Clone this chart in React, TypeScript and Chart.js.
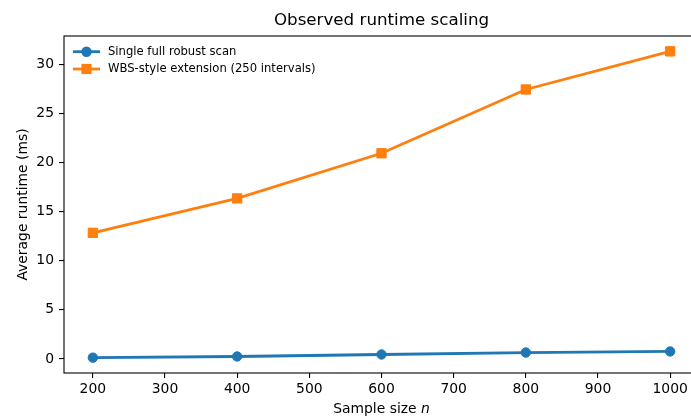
import React, { useEffect, useRef } from "react";
import { Chart, registerables } from "chart.js";

Chart.register(...registerables);

// ---- data ----
const sampleSizes = [200, 400, 600, 800, 1000];
const singleScan = [0.14, 0.26, 0.46, 0.66, 0.77];
const wbsExtension = [12.84, 16.34, 20.93, 27.42, 31.3];
const seriesLabels = ["Single full robust scan", "WBS-style extension (250 intervals)"];
const xTickValues = [200, 300, 400, 500, 600, 700, 800, 900, 1000];
const yTickValues = [0, 5, 10, 15, 20, 25, 30];
const titleText = "Observed runtime scaling";
const xLabelText = "Sample size ";
const xLabelVar = "n";
const yLabelText = "Average runtime (ms)";

const BLUE = "#1f77b4";
const ORANGE = "#ff7f0e";
const FONT = '"DejaVu Sans", sans-serif';

const decor = {
  id: "decor",
  afterDraw(chart: any) {
    const { ctx, chartArea: a } = chart;
    ctx.save();
    // spines
    ctx.strokeStyle = "#000";
    ctx.lineWidth = 1.1;
    ctx.strokeRect(a.left, a.top, a.right - a.left, a.bottom - a.top);

    const cx = (a.left + a.right) / 2;
    ctx.fillStyle = "#000";
    ctx.textBaseline = "middle";

    // title
    ctx.font = `16.7px ${FONT}`;
    ctx.textAlign = "center";
    ctx.fillText(titleText, cx, 21);

    // x label with italic n
    ctx.textAlign = "left";
    ctx.font = `13.9px ${FONT}`;
    const w1 = ctx.measureText(xLabelText).width;
    ctx.font = `italic 13.9px ${FONT}`;
    const w2 = ctx.measureText(xLabelVar).width;
    const x0 = cx - (w1 + w2) / 2;
    ctx.font = `13.9px ${FONT}`;
    ctx.fillText(xLabelText, x0, 409);
    ctx.font = `italic 13.9px ${FONT}`;
    ctx.fillText(xLabelVar, x0 + w1, 409);

    // y label
    ctx.save();
    ctx.translate(23, (a.top + a.bottom) / 2);
    ctx.rotate(-Math.PI / 2);
    ctx.textAlign = "center";
    ctx.font = `13.9px ${FONT}`;
    ctx.fillText(yLabelText, 0, 0);
    ctx.restore();

    // legend
    const colors = [BLUE, ORANGE];
    const rows = [51.7, 69];
    seriesLabels.forEach((lab, i) => {
      const y = rows[i];
      ctx.strokeStyle = colors[i];
      ctx.lineWidth = 2.8;
      ctx.beginPath();
      ctx.moveTo(73, y);
      ctx.lineTo(100, y);
      ctx.stroke();
      ctx.fillStyle = colors[i];
      if (i === 0) {
        ctx.beginPath();
        ctx.arc(86.5, y, 5.2, 0, Math.PI * 2);
        ctx.fill();
      } else {
        ctx.fillRect(86.5 - 5.1, y - 5.1, 10.2, 10.2);
      }
      ctx.fillStyle = "#000";
      ctx.font = `11.6px ${FONT}`;
      ctx.textAlign = "left";
      ctx.fillText(lab, 108, y);
    });
    ctx.restore();
  },
};

export default function App() {
  const ref = useRef<HTMLCanvasElement | null>(null);

  useEffect(() => {
    document.body.style.margin = "0";
    document.body.style.overflow = "hidden";
    document.documentElement.style.overflow = "hidden";
    const canvas = ref.current;
    if (!canvas) return;
    const chart = new Chart(canvas, {
      type: "line",
      data: {
        datasets: [
          {
            label: seriesLabels[0],
            data: sampleSizes.map((x, i) => ({ x, y: singleScan[i] })),
            borderColor: BLUE,
            backgroundColor: BLUE,
            borderWidth: 2.8,
            pointStyle: "circle",
            pointRadius: 4.7,
            pointBorderWidth: 1,
            pointBorderColor: BLUE,
            pointBackgroundColor: BLUE,
            tension: 0,
          },
          {
            label: seriesLabels[1],
            data: sampleSizes.map((x, i) => ({ x, y: wbsExtension[i] })),
            borderColor: ORANGE,
            backgroundColor: ORANGE,
            borderWidth: 2.8,
            pointStyle: "rect",
            pointRadius: 6.6,
            pointBorderWidth: 1,
            pointBorderColor: ORANGE,
            pointBackgroundColor: ORANGE,
            tension: 0,
          },
        ],
      },
      options: {
        responsive: false,
        animation: false,
        devicePixelRatio: 1,
        layout: { padding: { top: 36, right: 21, left: 0, bottom: 0 } },
        plugins: {
          legend: { display: false },
          title: { display: false },
          tooltip: { enabled: false },
        },
        scales: {
          x: {
            type: "linear",
            min: 160,
            max: 1040,
            afterFit: (s: any) => {
              s.height = 44;
            },
            afterBuildTicks: (s: any) => {
              s.ticks = xTickValues.map((v) => ({ value: v }));
            },
            ticks: {
              autoSkip: false,
              maxRotation: 0,
              padding: 3,
              color: "#000",
              font: { family: FONT, size: 13.9 },
              callback: (v: any) => String(v),
            },
            grid: {
              display: true,
              drawOnChartArea: false,
              drawTicks: true,
              tickLength: 5,
              color: "#000",
              lineWidth: 1.1,
            },
            border: { display: false },
          },
          y: {
            type: "linear",
            min: -1.42,
            max: 32.86,
            afterFit: (s: any) => {
              s.width = 64;
            },
            afterBuildTicks: (s: any) => {
              s.ticks = yTickValues.map((v) => ({ value: v }));
            },
            ticks: {
              autoSkip: false,
              padding: 5,
              color: "#000",
              font: { family: FONT, size: 13.9 },
              callback: (v: any) => String(v),
            },
            grid: {
              display: true,
              drawOnChartArea: false,
              drawTicks: true,
              tickLength: 5,
              color: "#000",
              lineWidth: 1.1,
            },
            border: { display: false },
          },
        },
      },
      plugins: [decor],
    });
    return () => chart.destroy();
  }, []);

  return (
    <div style={{ width: 720, height: 417, background: "#fff" }}>
      <canvas ref={ref} width={720} height={417} style={{ display: "block" }} />
    </div>
  );
}
